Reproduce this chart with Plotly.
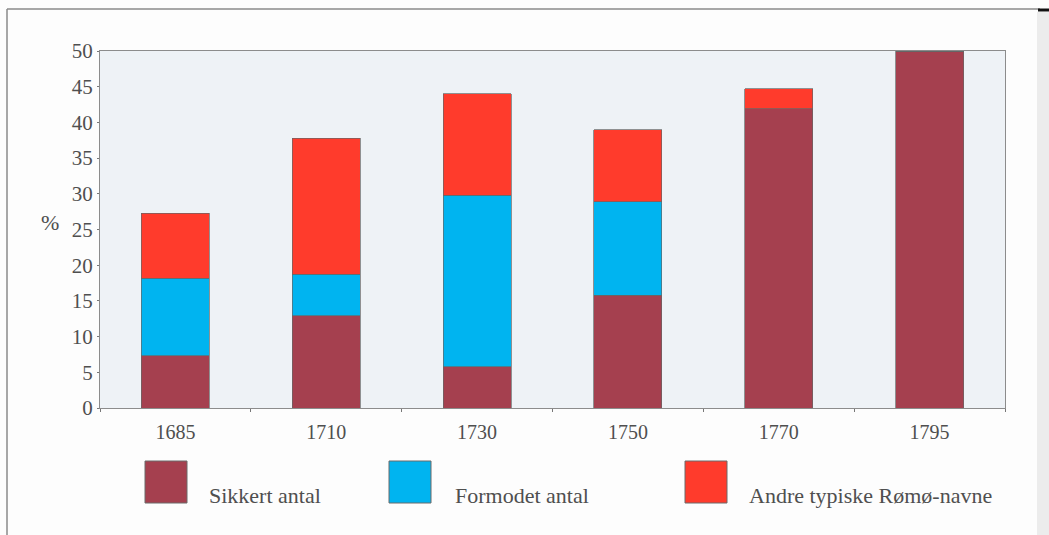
import plotly.graph_objects as go

# Share of names per census year (%), stacked
years = ["1685", "1710", "1730", "1750", "1770", "1795"]
sikkert = [7.3, 12.9, 5.8, 15.8, 41.9, 50.0]
formodet = [10.9, 5.8, 24.0, 13.1, 0.0, 0.0]
andre = [9.1, 19.1, 14.2, 10.1, 2.8, 0.0]

series_names = ["Sikkert antal", "Formodet antal", "Andre typiske Rømø-navne"]
series_colors = ["#a5404f", "#00b4f0", "#ff3b2c"]
y_ticks = list(range(0, 51, 5))

W, H = 1049, 535
L, R, T, B = 100, 44, 51, 127
PW, PH = W - L - R, H - T - B
FONT = "Liberation Serif"
TXT = "#4f4f4f"


def px(x):
    return (x - L) / PW


def py(y):
    return (H - B - y) / PH


fig = go.Figure()
for name, vals, col in zip(series_names, [sikkert, formodet, andre], series_colors):
    fig.add_trace(go.Bar(
        x=years, y=vals, name=name,
        marker=dict(color=col, line=dict(color="#666666", width=0.7)),
        width=0.45, showlegend=False,
    ))

shapes = [
    # page frame
    dict(type="line", xref="paper", yref="paper", x0=px(7), x1=px(7), y0=py(9), y1=py(535),
         line=dict(color="#8a8a8a", width=1.5)),
    dict(type="line", xref="paper", yref="paper", x0=px(7), x1=px(1040), y0=py(9), y1=py(9),
         line=dict(color="#8a8a8a", width=1.5)),
    dict(type="rect", xref="paper", yref="paper", x0=px(1037), x1=px(1049), y0=py(12), y1=py(535),
         fillcolor="#ececec", line=dict(width=0), layer="below"),
    dict(type="line", xref="paper", yref="paper", x0=px(1038), x1=px(1049), y0=py(10), y1=py(10),
         line=dict(color="#111111", width=3)),
]

annotations = [
    dict(text="%", x=px(50), y=py(223), xref="paper", yref="paper", showarrow=False,
         xanchor="center", yanchor="middle",
         font=dict(family=FONT, size=22, color=TXT)),
]

legend_sq = [145, 389, 685]
legend_tx = [207, 453, 747]
for name, col, sx, tx in zip(series_names, series_colors, legend_sq, legend_tx):
    shapes.append(dict(type="rect", xref="paper", yref="paper",
                       x0=px(sx), x1=px(sx + 42), y0=py(503), y1=py(461),
                       fillcolor=col, line=dict(color="#6a6a6a", width=1)))
    annotations.append(dict(text=name, x=px(tx), y=py(495), xref="paper", yref="paper",
                            xanchor="left", yanchor="middle", showarrow=False,
                            font=dict(family=FONT, size=22, color=TXT)))

fig.update_layout(
    width=W, height=H,
    margin=dict(l=L, r=R, t=T, b=B),
    barmode="stack",
    bargap=0.55,
    paper_bgcolor="#fdfdfd",
    plot_bgcolor="#eef2f6",
    font=dict(family=FONT, color=TXT),
    shapes=shapes,
    annotations=annotations,
    xaxis=dict(
        type="category", showgrid=False, showline=True, linecolor="#8c8c8c", linewidth=1,
        mirror=True, ticks="outside", tickson="boundaries", ticklen=3, tickcolor="#777",
        ticklabelstandoff=6,
        tickfont=dict(family=FONT, size=20, color=TXT),
    ),
    yaxis=dict(
        range=[0, 50], tickvals=y_ticks, showgrid=False, zeroline=False, showline=True,
        linecolor="#8c8c8c", linewidth=1, mirror=True, ticks="outside", ticklen=2,
        ticklabelstandoff=0,
        tickcolor="#777", tickfont=dict(family=FONT, size=21, color=TXT),
    ),
)

fig.write_html("out.html")
